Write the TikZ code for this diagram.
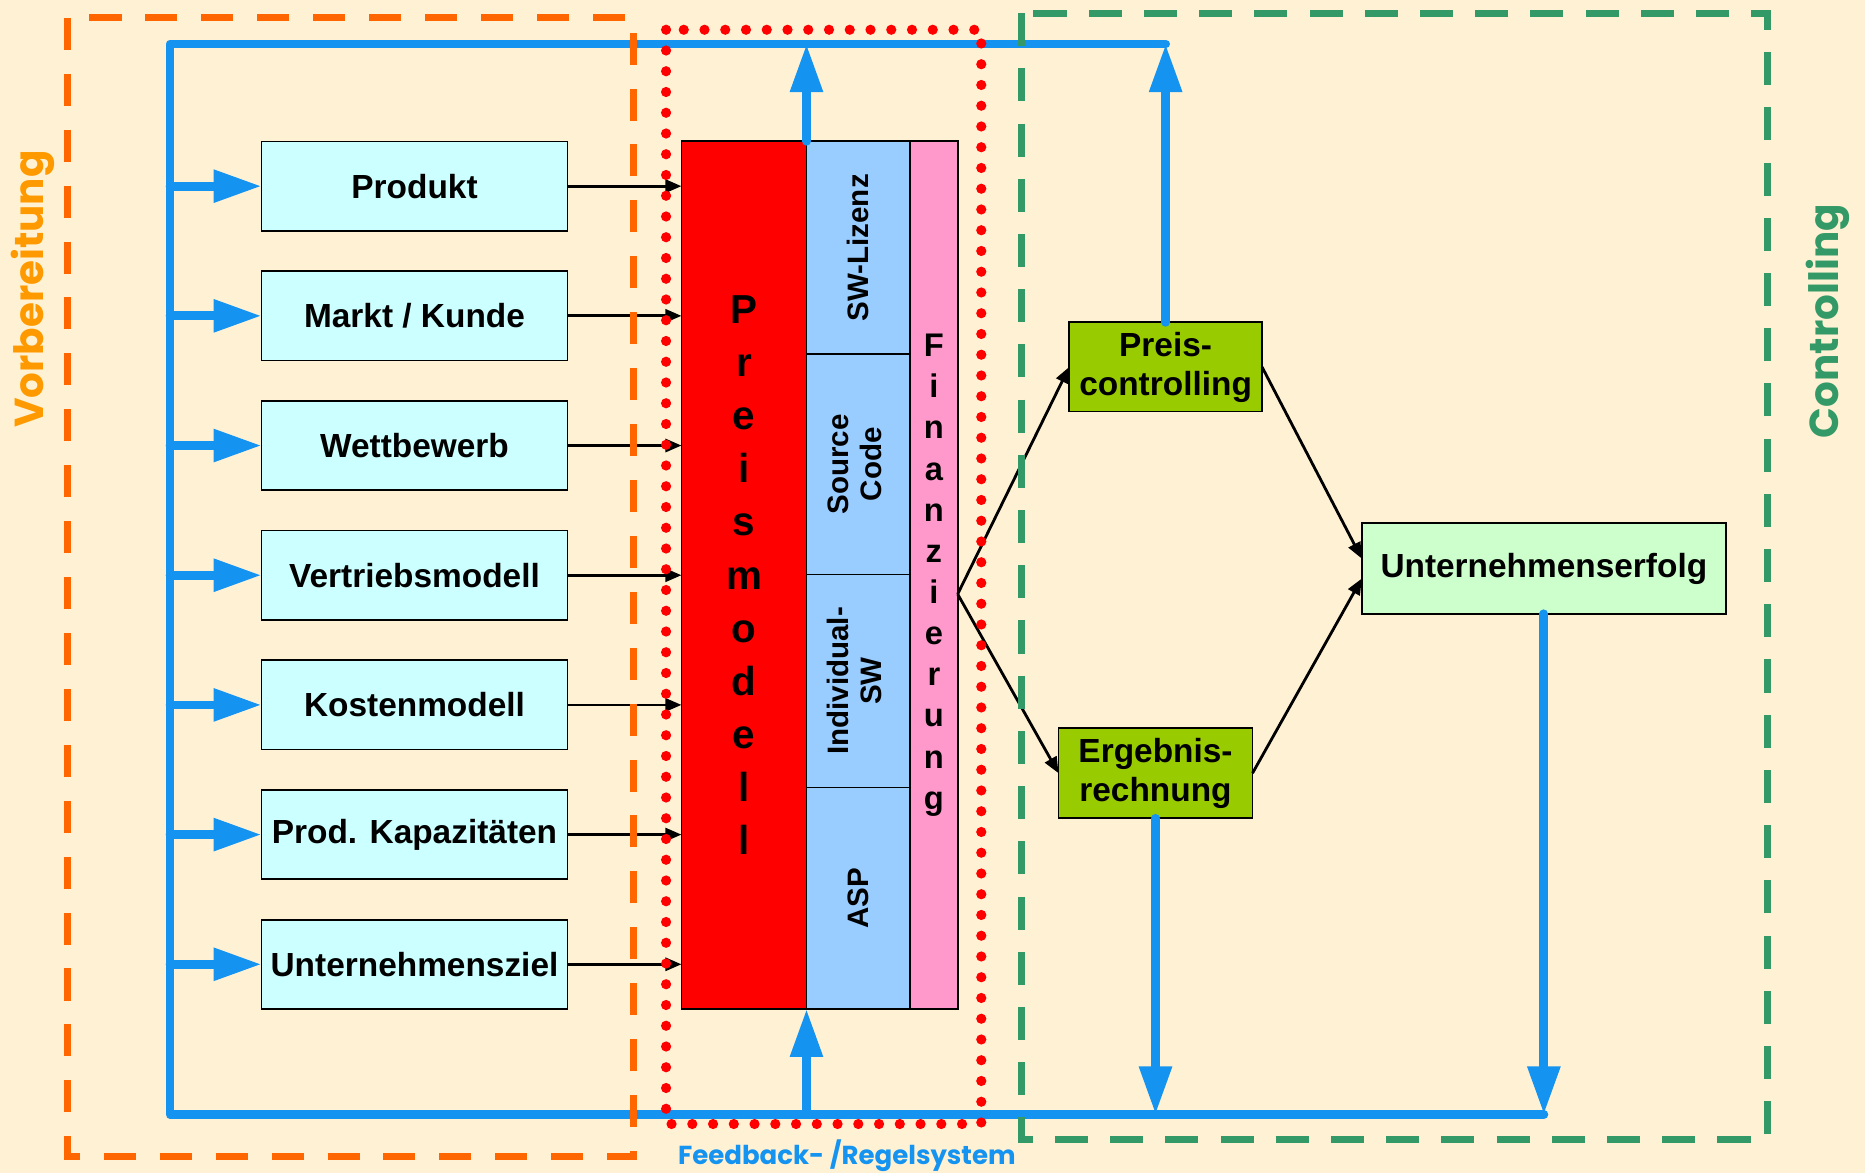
\documentclass[tikz,border=0pt]{standalone}
\usepackage{fontspec}
\setmainfont{Liberation Sans}
\newfontfamily\geofont{Poppins}
\usepackage{graphicx}
\usepackage{tikz}
\usetikzlibrary{
  	positioning,
  	arrows.meta,
  	calc
  }

\definecolor{bgcream}{HTML}{FFF2D4}
\definecolor{cyanbox}{HTML}{CCFFFF}
\definecolor{swblue}{HTML}{99CCFF}
\definecolor{finpink}{HTML}{FF99CC}
\definecolor{ctrlgreen}{HTML}{99CC00}
\definecolor{erfgreen}{HTML}{CCFFCC}
\definecolor{feedblue}{HTML}{1493F0}
\definecolor{prepdash}{HTML}{FF6600}
\definecolor{preptext}{HTML}{FF9900}
\definecolor{ctrldash}{HTML}{339966}

\begin{document}
\begin{tikzpicture}[x=0.011894cm, y=0.011894cm,
  every node/.style={inner sep=0pt, outer sep=0pt},
  inbox/.style={draw, line width=0.5pt, fill=cyanbox, minimum width=3.057cm, minimum height=0.892cm, font=\fontsize{9.5}{11}\selectfont\bfseries},
  swbox/.style={draw, line width=0.5pt, fill=swblue, anchor=north, minimum width=1.035cm, font=\fontsize{8.4}{9.5}\selectfont\bfseries},
  ctrlbox/.style={draw, line width=0.5pt, fill=ctrlgreen, align=center, font=\fontsize{9.5}{11.1}\selectfont\bfseries},
  feed/.style={draw=feedblue, line width=2.5pt, line cap=round, line join=round},
  feedarr/.style={feed, -{Triangle[length=0.48cm, width=0.31cm]}},
  inarr/.style={line width=0.8pt, -{Triangle[length=0.16cm, width=0.13cm]}},
  sidelab/.style={rotate=90, font=\geofont\bfseries\fontsize{11.5}{13}\selectfont}]
	\fill[bgcream] (0,0) rectangle (1568,-986);
	\useasboundingbox (0,0) rectangle (1568,-986);
%
	\node[inbox] (prod) at (348.5,-156.5) {Produkt};
	\node[inbox, below=0.404cm of prod] (markt) {Markt / Kunde};
	\node[inbox, below=0.404cm of markt] (wett) {Wettbewerb};
	\node[inbox, below=0.404cm of wett] (vertrieb) {Vertriebsmodell};
	\node[inbox, below=0.404cm of vertrieb] (kosten) {Kostenmodell};
	\node[inbox, below=0.404cm of kosten] (kapaz) {Prod. Kapazit\"aten};
	\node[inbox, below=0.404cm of kapaz] (ziel) {Unternehmensziel};
%
	\node[draw, line width=0.5pt, fill=red, minimum width=1.249cm, minimum height=8.671cm, align=center,
	  font=\fontsize{11.5}{15.1}\selectfont\bfseries] (preis) at (625.5,-483.5)
	  {P\\r\\e\\i\\s\\m\\o\\d\\e\\l\\l};
	\node[swbox, anchor=north west, minimum height=2.129cm] (lizenz) at (preis.north east) {\rotatebox{90}{SW-Lizenz}};
	\node[swbox, minimum height=2.200cm] (source) at (lizenz.south)
	  {\rotatebox{90}{\begin{tabular}{@{}c@{}}Source\\Code\end{tabular}}};
	\node[swbox, minimum height=2.129cm] (indiv) at (source.south)
	  {\rotatebox{90}{\begin{tabular}{@{}c@{}}Individual-\\SW\end{tabular}}};
	\node[swbox, minimum height=2.212cm] (asp) at (indiv.south) {\rotatebox{90}{ASP}};
	\node[draw, line width=0.5pt, fill=finpink, anchor=north west, minimum width=0.476cm, minimum height=8.671cm, align=center,
	  font=\fontsize{9.3}{11.7}\selectfont\bfseries] (finanz) at (lizenz.north east)
	  {F\\i\\n\\a\\n\\z\\i\\e\\r\\u\\n\\g};
%
	\node[ctrlbox, minimum width=1.927cm, minimum height=0.892cm] (pctrl) at (980,-308.5) {Preis-\\controlling};
	\node[ctrlbox, minimum width=1.939cm, minimum height=0.904cm] (ergeb) at (971.5,-650) {Ergebnis-\\rechnung};
	\node[draw, line width=0.5pt, fill=erfgreen, minimum width=3.640cm, minimum height=0.904cm,
	  font=\fontsize{9.5}{11}\selectfont\bfseries] (erfolg) at (1298,-478) {Unternehmenserfolg};
%
	\coordinate (lt) at (143,-37);
	\coordinate (lb) at (143,-937);
	\coordinate (fz) at ([yshift=-0.19cm]finanz.east);
	\draw[feed] (pctrl.north |- lt) -- (lt) -- (lb) -- (erfolg.south |- lb);
	\foreach \b in {prod,markt,wett,vertrieb,kosten,kapaz,ziel}{
	  \draw[feedarr] (\b.west -| lt) -- (\b.west);
	  \draw[inarr] (\b.east) -- (\b.east -| preis.west);
	}
	\draw[feedarr] (preis.north east) -- (preis.north east |- lt);
	\draw[feedarr] (preis.south east |- lb) -- (preis.south east);
	\draw[feedarr] (pctrl.north) -- (pctrl.north |- lt);
	\draw[feedarr] (ergeb.south) -- (ergeb.south |- lb);
	\draw[feedarr] (erfolg.south) -- (erfolg.south |- lb);
%
	\draw[inarr] (fz) -- (pctrl.west);
	\draw[inarr] (fz) -- (ergeb.west);
	\draw[inarr] (pctrl.east) -- ([yshift=0.1cm]erfolg.west);
	\draw[inarr] (ergeb.east) -- ([yshift=-0.1cm]erfolg.west);
%
	\draw[prepdash, line width=2pt, dash pattern=on 9.1pt off 6.8pt] (57,-15) rectangle (533,-972);
	\draw[ctrldash, line width=2pt, dash pattern=on 9.4pt off 6.3pt] (859,-11) rectangle (1486,-958);
	\draw[red, line width=2.9pt, line cap=round, dash pattern=on 0pt off 5.9pt] (560,-25) rectangle (825,-945);
%
	\node[sidelab, text=preptext] (vorb) at (28,-243) {Vorbereitung};
	\node[sidelab, text=ctrldash] (ctrl) at (1537,-270) {Controlling};
	\node[text=feedblue, font=\geofont\bfseries\fontsize{7.4}{9}\selectfont] (feedlab) at (712,-972) {Feedback- /Regelsystem};
\end{tikzpicture}
\end{document}
